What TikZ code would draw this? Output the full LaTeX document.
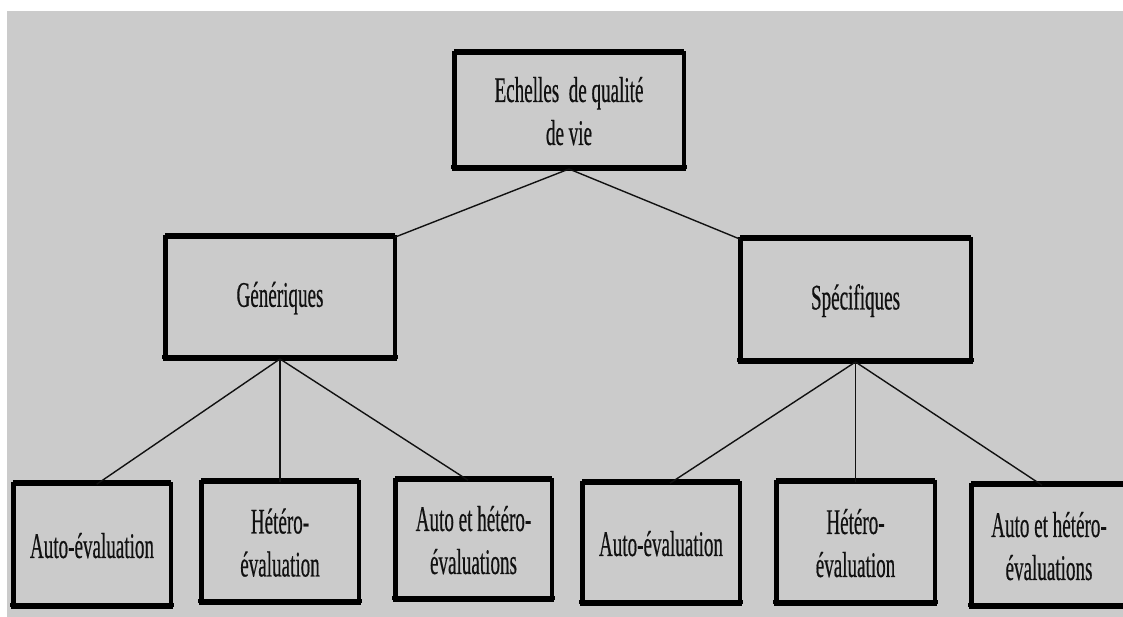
\documentclass[tikz,border=0pt]{standalone}
\usepackage{fontspec}
\usetikzlibrary{calc}
\newfontfamily\narrowserif[FakeStretch=0.53,FakeBold=0.4]{Liberation Serif}
\definecolor{panel}{RGB}{203,203,203}
\definecolor{ink}{RGB}{17,17,17}
\tikzset{
  box/.style={draw=black, line width=4.5pt, outer sep=0pt, inner sep=0pt,
    align=center, text=ink, font=\narrowserif\fontsize{36}{43}\selectfont},
  base/.style={line width=4pt, line cap=rect},
  lid/.style={line width=2.5pt, line cap=butt},
  link/.style={draw=ink, line width=1.4pt},
}
\begin{document}
\begin{tikzpicture}[x=1pt, y=-1pt]
  \useasboundingbox (0,0) rectangle (1123,617);
  \clip (0,0) rectangle (1123,617);
  \fill[white] (0,0) rectangle (1123,617);
  \fill[panel] (7,11) rectangle (1123,617);

  % root
  \node[box, minimum width=229.5pt, minimum height=115.75pt] (root) at (569,111.1)
    {Echelles\ \ de qualité\\de vie};

  % second level
  \node[box, minimum width=229.5pt, minimum height=121.75pt] (gen) at (280,298.1) {Génériques};
  \node[box, minimum width=230.5pt, minimum height=122.75pt] (spe) at (855.5,300.6) {Spécifiques};

  % third level, generic scales
  \node[box, minimum width=157.5pt, minimum height=122.75pt] (ae1) at (92,545.6) {Auto-évaluation};
  \node[box, minimum width=157.5pt, minimum height=120.75pt] (he1) at (280,542.6) {Hétéro-\\évaluation};
  \node[box, minimum width=156.5pt, minimum height=119.75pt] (ah1) at (473.5,540.1) {Auto et hétéro-\\évaluations};

  % third level, specific scales
  \node[box, minimum width=157.5pt, minimum height=120.75pt] (ae2) at (661,543.6) {Auto-évaluation};
  \node[box, minimum width=158.5pt, minimum height=121.75pt] (he2) at (855.5,543.1) {Hétéro-\\évaluation};
  \node[box, minimum width=155.5pt, minimum height=121.75pt] (ah2) at (1049,546.1) {Auto et hétéro-\\évaluations};

  % heavier bottom and top edges of every box
  \foreach \n in {root,gen,spe,ae1,he1,ah1,ae2,he2,ah2}{
    \draw[base] ([shift={(-1pt,2pt)}]\n.south west) -- ([shift={(1pt,2pt)}]\n.south east);
    \draw[lid] ([yshift=3pt]\n.north west) -- ([yshift=3pt]\n.north east);
  }

  % connectors
  \draw[link] (root.south) -- (gen.north east);
  \draw[link] (root.south) -- (spe.north west);

  \draw[link] (gen.south) -- ($(ae1.north west)!0.53!(ae1.north east)$);
  \draw[link] (gen.south) -- (he1.north);
  \draw[link] (gen.south) -- ($(ah1.north west)!0.465!(ah1.north east)$);

  \draw[link] (spe.south) -- ($(ae2.north west)!0.557!(ae2.north east)$);
  \draw[link] (spe.south) -- (he2.north);
  \draw[link] (spe.south) -- ($(ah2.north west)!0.455!(ah2.north east)$);
\end{tikzpicture}
\end{document}
